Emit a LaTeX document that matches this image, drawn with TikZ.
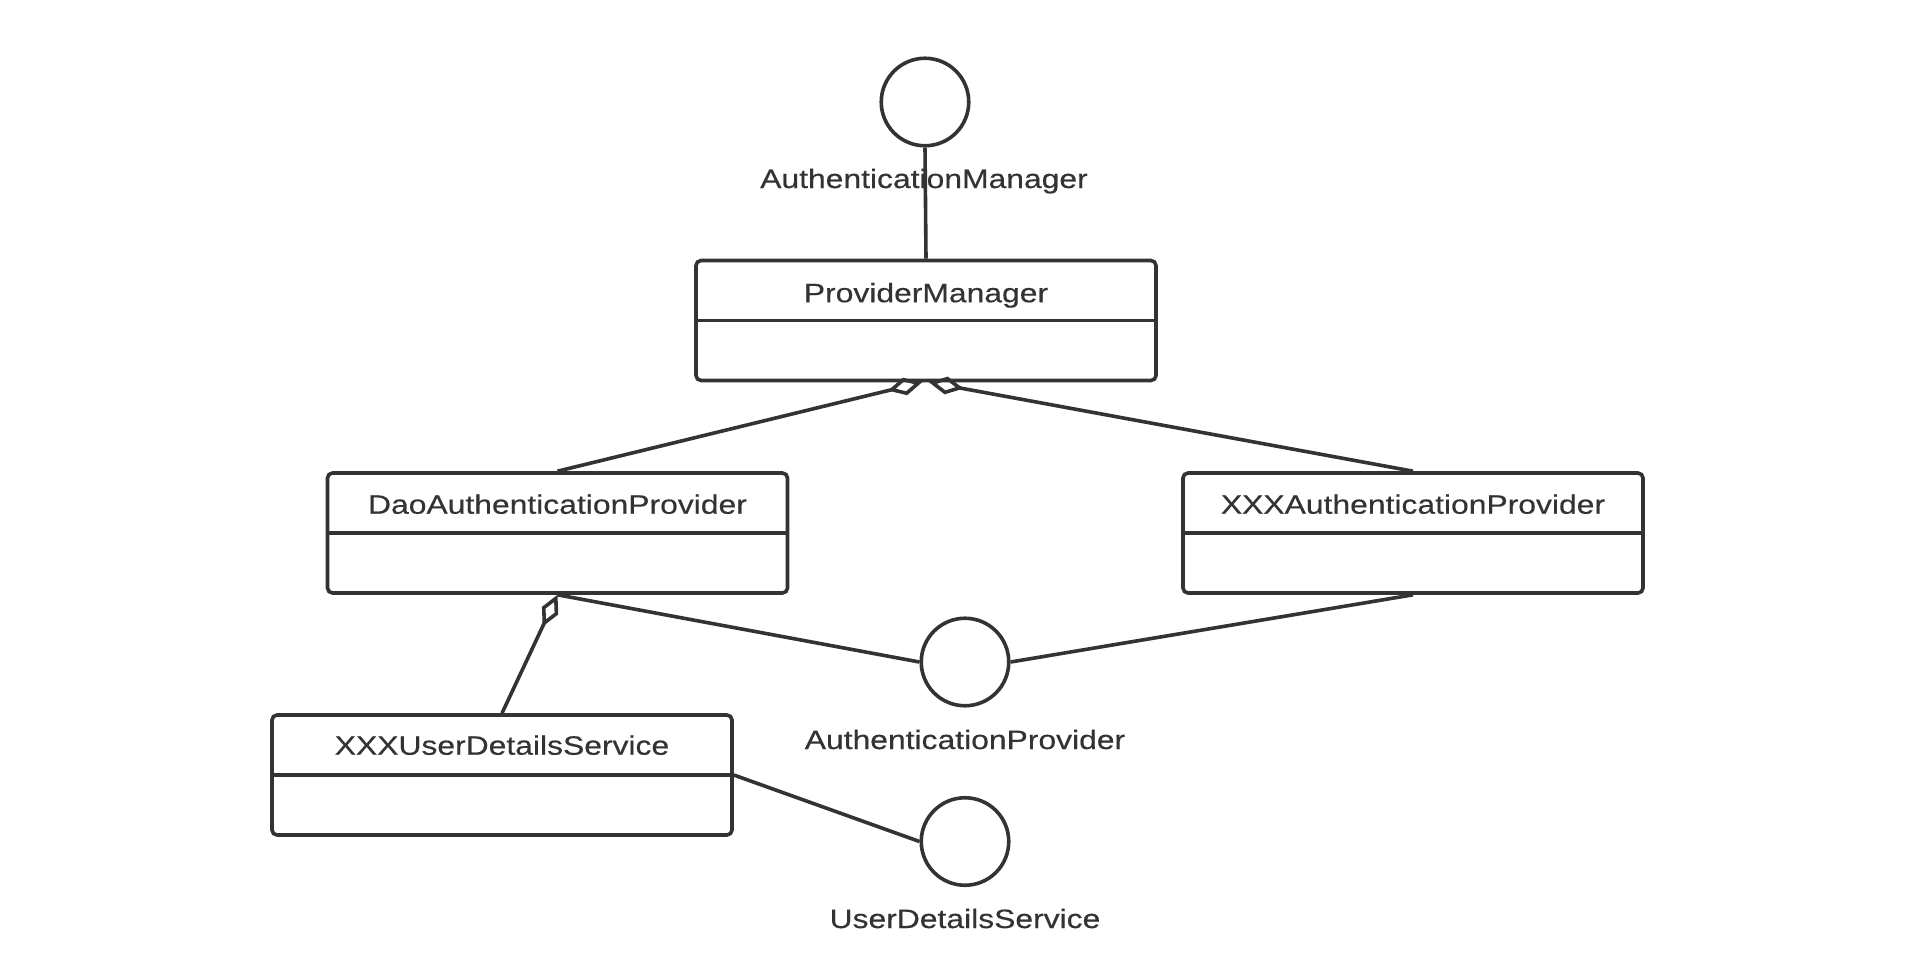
\documentclass[tikz,border=0pt]{standalone}
\usepackage{fontspec}
\newfontfamily\diagfont{Liberation Sans}[FakeStretch=1.2,FakeBold=0.4]
\usetikzlibrary{arrows.meta,calc}
\definecolor{ink}{HTML}{333333}
\begin{document}
\begin{tikzpicture}[x=0.5pt,y=-0.5pt,
  every node/.style={text=ink, font=\diagfont\fontsize{13.27pt}{16pt}\selectfont},
  umlbox/.style={draw=ink, line width=1.8pt, rounded corners=2.5pt, minimum width=230pt, minimum height=60pt, inner sep=0pt},
  iface/.style={draw=ink, line width=1.8pt, circle, minimum size=43.75pt, inner sep=0pt},
  conn/.style={draw=ink, line width=1.8pt},
  agg/.tip={Diamond[open, length=17.5pt, width=9pt]}
]
\useasboundingbox[fill=white] (0,0) rectangle (1918,970);

% boxes
\node[umlbox] (pm) at (926,320.5) {};
\node[umlbox] (dao) at (557.5,533) {};
\node[umlbox] (xap) at (1413,533) {};
\node[umlbox] (xuds) at (502,775) {};
\foreach \b in {pm,dao,xap,xuds} \draw[conn] (\b.west) -- (\b.east);

\node[anchor=base] (pmt) at ($(pm.north)+(0,43.5)$) {ProviderManager};
\node[anchor=base] (daot) at ($(dao.north)+(0,42.5)$) {DaoAuthenticationProvider};
\node[anchor=base] (xapt) at ($(xap.north)+(0,42.5)$) {XXXAuthenticationProvider};
\node[anchor=base] (xudst) at ($(xuds.north)+(0,41.5)$) {XXXUserDetailsService};

% interfaces
\node[iface] (am) at (925,102) {};
\node[iface] (ap) at (965,662) {};
\node[iface] (uds) at (965,841.5) {};
\node[anchor=base] (aml) at (924,188) {AuthenticationManager};
\node[anchor=base] (apl) at (965,749) {AuthenticationProvider};
\node[anchor=base] (udsl) at (965,928) {UserDetailsService};

% connectors
\draw[conn] (am.south) -- (pm.north);
\coordinate (pmL) at ($(pm.south)+(-4,0)$);
\coordinate (pmR) at ($(pm.south)+(3,0)$);
\draw[conn, -agg] (dao.north) -- (pmL);
\draw[conn, -agg] (xap.north) -- (pmR);
\draw[conn, agg-] (dao.south) -- (xuds.north);
\draw[conn] (dao.south) -- (ap.west);
\draw[conn] (xap.south) -- (ap.east);
\draw[conn] (xuds.east) -- (uds.west);
\end{tikzpicture}
\end{document}
